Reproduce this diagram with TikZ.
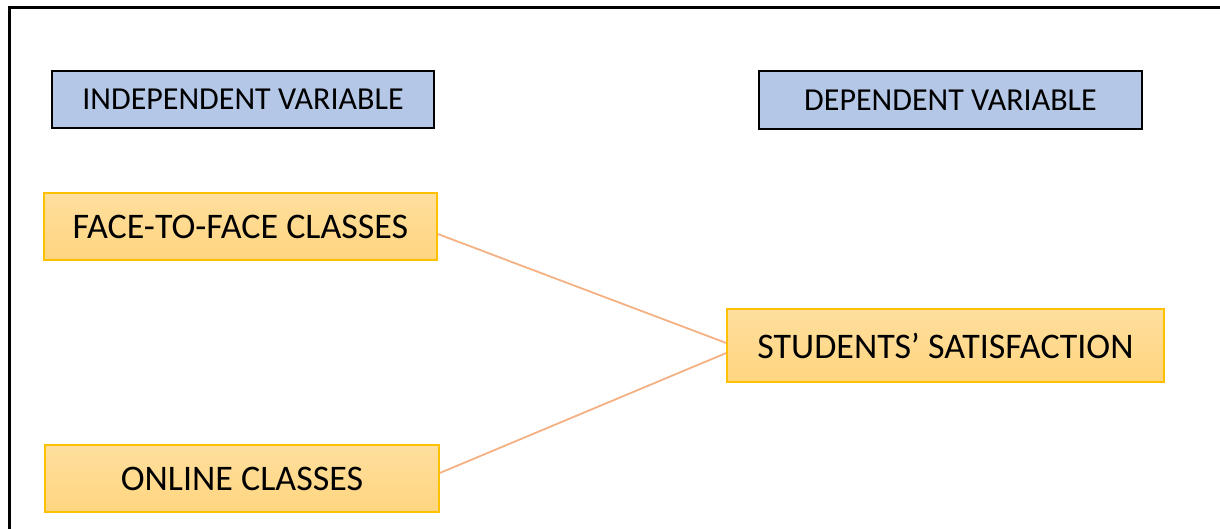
\documentclass[tikz,border=0pt]{standalone}
\usepackage{fontspec}
\setmainfont{Carlito}
\definecolor{varblue}{HTML}{B4C7E7}
\definecolor{boxtop}{HTML}{FFDF9E}
\definecolor{boxbot}{HTML}{FFD57F}
\definecolor{boxedge}{HTML}{FFC000}
\definecolor{linkc}{HTML}{F4B183}
\tikzset{
  varbox/.style={draw=black, line width=1.2pt, fill=varblue, inner sep=0pt, font=\fontsize{32}{38}\selectfont},
  factorbox/.style={draw=boxedge, line width=1.5pt, top color=boxtop, bottom color=boxbot, inner sep=0pt, font=\fontsize{36}{42}\selectfont},
  link/.style={draw=linkc, line width=1.8pt}
}
\begin{document}
\begin{tikzpicture}[x=1pt,y=-1pt]
\useasboundingbox (0,0) rectangle (1220,529);
\fill[white] (0,0) rectangle (1220,529);
\draw[line width=2.6pt, black] (1240,7.5) -- (9.3,7.5) -- (9.3,540);
\node[varbox, minimum width=382pt, minimum height=57pt] (indep) at (243,99.5) {INDEPENDENT VARIABLE};
\node[varbox, minimum width=383pt, minimum height=58pt] (dep) at (950.5,100) {DEPENDENT VARIABLE};
\node[factorbox, minimum width=393pt, minimum height=67pt] (face) at (240.5,226.5) {FACE-TO-FACE CLASSES};
\node[factorbox, minimum width=394pt, minimum height=67pt] (online) at (242,478.5) {ONLINE CLASSES};
\node[factorbox, minimum width=437pt, minimum height=73pt] (stud) at (945.5,345.5) {STUDENTS’ SATISFACTION};
\draw[link] ([yshift=-7.5pt]face.east) -- ([yshift=2.5pt]stud.west);
\draw[link] ([yshift=5.5pt]online.east) -- ([yshift=-7.5pt]stud.west);
\end{tikzpicture}
\end{document}
